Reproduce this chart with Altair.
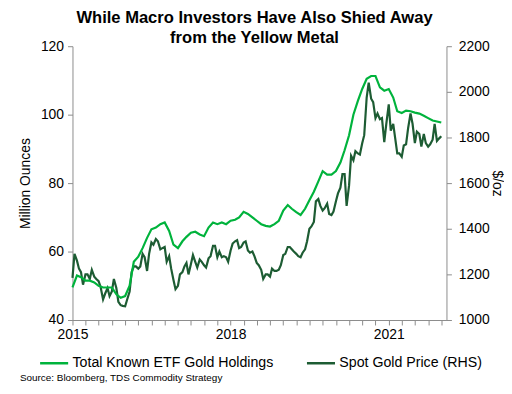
import altair as alt
import pandas as pd

# Spot gold price, semi-monthly (1st and 15th), $/oz
gold_2015 = [1185, 1290, 1260, 1225, 1210, 1155, 1200, 1200, 1180, 1220, 1190, 1180,
             1170, 1145, 1090, 1115, 1140, 1105, 1125, 1180, 1140, 1080, 1065, 1062]
gold_2016 = [1060, 1090, 1125, 1210, 1235, 1235, 1225, 1235, 1290, 1275, 1215, 1290,
             1340, 1330, 1355, 1345, 1310, 1315, 1320, 1255, 1280, 1225, 1175, 1135]
gold_2017 = [1150, 1200, 1210, 1235, 1250, 1200, 1245, 1285, 1255, 1230, 1265, 1255,
             1240, 1230, 1270, 1280, 1325, 1325, 1275, 1300, 1275, 1280, 1275, 1255]
gold_2018 = [1305, 1335, 1345, 1350, 1315, 1320, 1340, 1345, 1305, 1295, 1300, 1280,
             1250, 1240, 1220, 1180, 1200, 1200, 1190, 1225, 1215, 1215, 1220, 1240]
gold_2019 = [1285, 1290, 1320, 1320, 1310, 1300, 1290, 1280, 1275, 1295, 1310, 1345,
             1400, 1410, 1430, 1520, 1530, 1500, 1480, 1490, 1510, 1465, 1460, 1475]
gold_2020 = [1520, 1555, 1580, 1640, 1640, 1500, 1590, 1720, 1700, 1740, 1730, 1725,
             1775, 1810, 1975, 2040, 1970, 1955, 1885, 1905, 1880, 1885, 1780, 1860]
gold_2021 = [1945, 1830, 1860, 1795, 1730, 1730, 1715, 1765, 1770, 1840, 1905, 1860,
             1775, 1825, 1815, 1760, 1815, 1775, 1760, 1770, 1790, 1860, 1785, 1795]
gold_end = [1805]

# Total known ETF gold holdings, monthly (1st of month), million oz
etf_2015 = [49.5, 53, 52.5, 51.5, 51.5, 51, 50, 49.5, 49.5, 49.5, 47.5, 46.5]
etf_2016 = [47, 50, 57, 58.5, 61, 64, 66.5, 67, 68, 68.5, 66, 62]
etf_2017 = [61, 63, 64.3, 65.5, 65.8, 65, 64.5, 67, 68.5, 68, 68.5, 68]
etf_2018 = [69, 69.3, 70, 71.6, 71, 70, 69, 68, 67.5, 67.3, 68, 69]
etf_2019 = [72, 73.6, 72.5, 71.5, 70.7, 72.5, 75, 77.5, 80.5, 83.5, 82.5, 82.5]
etf_2020 = [83.5, 86, 89.6, 94, 100, 104, 107.5, 110.5, 111.3, 111.3, 108, 107]
etf_2021 = [107.5, 105, 101, 100.5, 101.2, 101, 100.6, 100.3, 99.7, 99, 98.3, 98]
etf_end = [97.7]

series_names = ["Total Known ETF Gold Holdings", "Spot Gold Price (RHS)"]
series_colors = ["#00b33c", "#1d5c33"]
left_ticks = [40, 60, 80, 100, 120]
right_ticks = [1000, 1200, 1400, 1600, 1800, 2000, 2200]

gold_vals = gold_2015 + gold_2016 + gold_2017 + gold_2018 + gold_2019 + gold_2020 + gold_2021 + gold_end
gold_dates = []
for y in range(2015, 2022):
    for m in range(1, 13):
        gold_dates.append(f"{y}-{m:02d}-01")
        gold_dates.append(f"{y}-{m:02d}-15")
gold_dates.append("2021-12-31")

etf_vals = etf_2015 + etf_2016 + etf_2017 + etf_2018 + etf_2019 + etf_2020 + etf_2021 + etf_end
etf_dates = [f"{y}-{m:02d}-01" for y in range(2015, 2022) for m in range(1, 13)] + ["2021-12-31"]

gold_df = pd.DataFrame({"date": gold_dates, "value": gold_vals, "series": series_names[1]})
etf_df = pd.DataFrame({"date": etf_dates, "value": etf_vals, "series": series_names[0]})

def ms(s):
    return int(pd.Timestamp(s, tz="UTC").timestamp() * 1000)

x_ticks = [ms(f"{y}-{m:02d}-01") for y in range(2015, 2023) for m in (1, 4, 7, 10)]
x_ticks = [t for t in x_ticks if t <= ms("2022-01-01")]

FONT = "Liberation Sans"
GRAY = "#8c8c8c"

x_enc = alt.X(
    "date:T",
    scale=alt.Scale(type="utc", domain=[ms("2015-01-01"), ms("2022-02-05")]),
    axis=alt.Axis(
        values=x_ticks,
        labelExpr="utcmonth(datum.value)==0 && utcyear(datum.value)%3==2 ? utcFormat(datum.value,'%Y') : ''",
        labelOverlap=False,
        labelFlush=False,
        title=None,
        grid=False,
        tickSize=5,
        labelPadding=3,
        domainColor=GRAY,
        tickColor=GRAY,
        labelFontSize=14,
        labelColor="#000000",
        labelFont=FONT,
    ),
)

color_enc = alt.Color(
    "series:N",
    scale=alt.Scale(domain=series_names, range=series_colors),
    legend=alt.Legend(
        orient="none",
        legendX=-34,
        legendY=304,
        direction="horizontal",
        title=None,
        symbolType="stroke",
        symbolSize=800,
        symbolStrokeWidth=2.5,
        labelFontSize=14.3,
        labelFont=FONT,
        labelColor="#000000",
        labelLimit=400,
        labelOffset=3,
        columnPadding=28,
    ),
)

etf_line = alt.Chart(etf_df).mark_line(strokeWidth=2.2).encode(
    x=x_enc,
    y=alt.Y(
        "value:Q",
        scale=alt.Scale(domain=[40, 120], nice=False, zero=False),
        axis=alt.Axis(
            values=left_ticks,
            title="Million Ounces",
            grid=False,
            tickSize=5,
            labelPadding=4,
            titlePadding=8,
            domainColor=GRAY,
            tickColor=GRAY,
            labelFontSize=14,
            titleFontSize=14,
            titleFontWeight="normal",
            labelColor="#000000",
            titleColor="#000000",
            labelFont=FONT,
            titleFont=FONT,
        ),
    ),
    color=color_enc,
)

gold_line = alt.Chart(gold_df).mark_line(strokeWidth=2.2).encode(
    x=x_enc,
    y=alt.Y(
        "value:Q",
        scale=alt.Scale(domain=[1000, 2200], nice=False, zero=False),
        axis=alt.Axis(
            orient="right",
            values=right_ticks,
            format="d",
            title="$/oz",
            grid=False,
            tickSize=5,
            labelPadding=7,
            titlePadding=0,
            domainColor=GRAY,
            tickColor=GRAY,
            labelFontSize=14,
            titleFontSize=14,
            titleFontWeight="normal",
            labelColor="#000000",
            titleColor="#000000",
            labelFont=FONT,
            titleFont=FONT,
        ),
    ),
    color=color_enc,
)

source = alt.Chart(pd.DataFrame({"t": ["Source: Bloomberg, TDS Commodity Strategy"]})).mark_text(
    align="left", baseline="middle", fontSize=10, font=FONT, color="#000000"
).encode(x=alt.value(-53), y=alt.value(334), text="t:N")

chart = (
    alt.layer(gold_line, etf_line, source)
    .resolve_scale(y="independent")
    .properties(
        width=377,
        height=276,
        autosize=alt.AutoSizeParams(type="none"),
        padding={"left": 65, "top": 37, "right": 58, "bottom": 64},
        title=alt.TitleParams(
            text=["While Macro Investors Have Also Shied Away", "from the Yellow Metal"],
            fontSize=16.7,
            font=FONT,
            fontWeight="bold",
            color="#000000",
            anchor="middle",
            dx=-5,
            dy=10,
            offset=3,
            lineHeight=20,
        ),
        background="#ffffff",
    )
    .configure_view(stroke=None)
)

chart.save("out.html", embed_options={"renderer": "svg", "actions": False})
